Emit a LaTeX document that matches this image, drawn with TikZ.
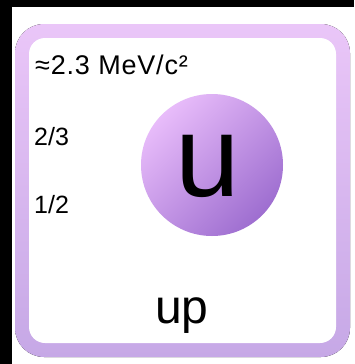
\documentclass[tikz,border=0pt]{standalone}
\usepackage{fontspec}
\setmainfont{Liberation Sans}
\newfontfamily\spacedfont[LetterSpace=3]{Liberation Sans}
\definecolor{framepink}{RGB}{234,198,248}
\definecolor{framelilac}{RGB}{198,168,230}
\definecolor{balllight}{RGB}{232,188,250}
\definecolor{balldark}{RGB}{158,110,208}
\tikzset{
  infotext/.style={anchor=base west, inner sep=0pt, font=\fontsize{25}{25}\selectfont},
  ballshade/.style={circle, minimum size=142pt, inner sep=0pt, top color=balllight, bottom color=balldark, shading angle=45}
}
\begin{document}
\begin{tikzpicture}[x=1pt, y=-1pt]
    % Background
    \useasboundingbox (0,0) rectangle (354,364);
    \fill[black] (0,0) rectangle (354,364);
    \fill[white] (12,7) rectangle (354,364);

    % Card frame
    \fill[top color=framepink, bottom color=framelilac, rounded corners=29pt] (15,24) rectangle (350,357);
    \fill[white, rounded corners=16pt] (29,38) rectangle (336,343);

    % Particle
    \node[ballshade] (ball) at (212,165) {};
    \node[inner sep=0pt, font=\fontsize{116}{116}\selectfont] (symbol) at (208,166) {u};

    % Properties
    \node[infotext, font=\spacedfont\fontsize{27}{27}\selectfont] (mass) at (35,74) {≈2.3 MeV/c²};
    \node[infotext] (charge) at (34,145) {2/3};
    \node[infotext] (spin) at (34,213) {1/2};
    \node[anchor=base, inner sep=0pt, font=\fontsize{48}{48}\selectfont] (name) at (182,323) {up};
\end{tikzpicture}
\end{document}
